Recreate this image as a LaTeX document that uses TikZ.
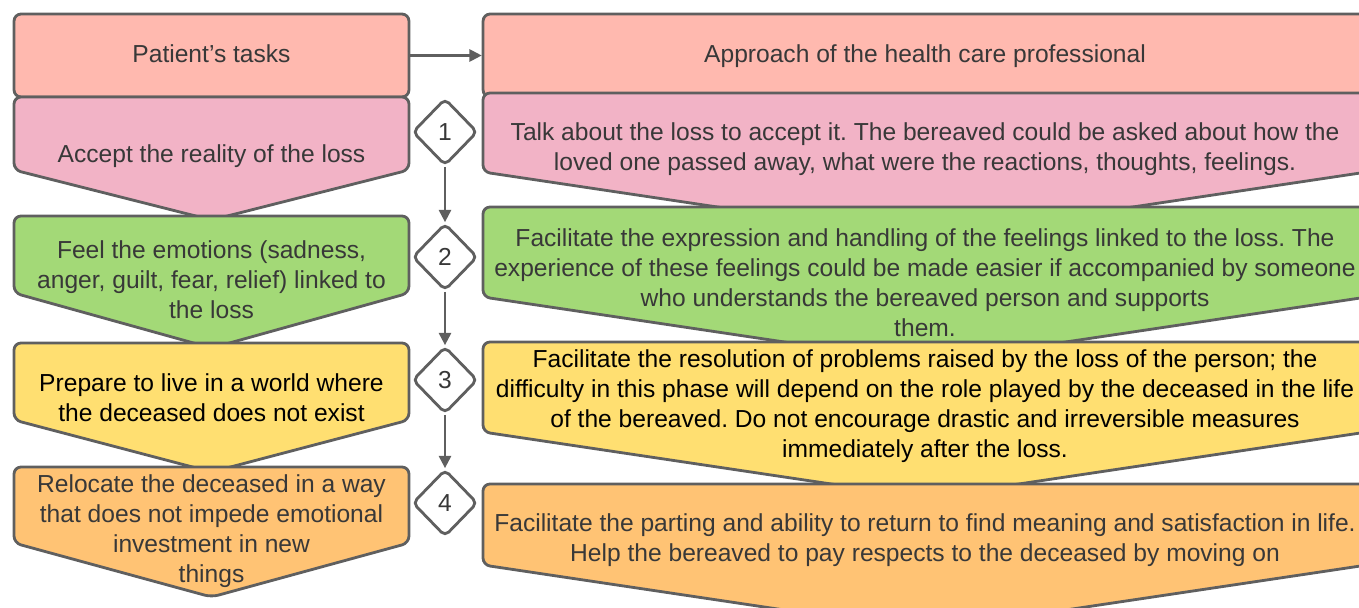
\documentclass[tikz,border=0pt]{standalone}
\usepackage{fontspec}
\setmainfont{Liberation Sans}
\usepackage{tikz}
\usetikzlibrary{shapes.geometric,arrows.meta,positioning}
\frenchspacing

\definecolor{linegray}{HTML}{5F5F5F}
\definecolor{txtgray}{HTML}{383838}
\definecolor{headred}{HTML}{FFB9AF}
\definecolor{rowpink}{HTML}{F2B3C6}
\definecolor{rowgreen}{HTML}{A3D977}
\definecolor{rowyellow}{HTML}{FFDF71}
\definecolor{roworange}{HTML}{FFC374}

% chevron box: x left, x right, y top, y corner, y tip, colour
\newcommand{\chevbox}[6]{%
  \draw[boxline,fill=#6] (#1,#3) -- (#2,#3) -- (#2,#4) -- ({(#1+#2)/2},#5) -- (#1,#4) -- cycle;}

\begin{document}
\begin{tikzpicture}[
  x=0.02cm, y=-0.02cm,
  boxline/.style={draw=linegray,line width=1.6pt,rounded corners=4pt,line join=round},
  txt/.style={text=txtgray,align=center,font=\fontsize{14}{17}\selectfont},
  head/.style={boxline,fill=headred,minimum height=1.66cm,txt,text height=1.05em,text depth=0.25em},
  num/.style={diamond,draw=linegray,line width=1.6pt,fill=white,rounded corners=3pt,
    minimum width=1.3cm,minimum height=1.34cm,inner sep=0pt,text=txtgray,
    font=\fontsize{14}{17}\selectfont},
  arr/.style={-{Triangle[length=7pt,width=7pt]},draw=linegray,line width=1.2pt}
  ]

  \path[use as bounding box,clip] (0,0) rectangle (1359,608);

  % headers
  \node[head,minimum width=7.9cm] (pt) at (211.5,55.5) {Patient's tasks};
  \node[head,minimum width=17.68cm] (ap) at (925,55.5) {Approach of the health care professional};
  \draw[arr] (pt.east) -- (pt.east -| ap.west);

  % patient's tasks
  \chevbox{14}{409}{97}{170}{220}{rowpink}
  \chevbox{14}{409}{216}{293}{348}{rowgreen}
  \chevbox{14}{409}{343}{420}{472}{rowyellow}
  \chevbox{14}{409}{467}{543}{597}{roworange}

  % approach of the professional
  \chevbox{483}{1367}{93}{172}{238}{rowpink}
  \chevbox{483}{1367}{207}{297}{363}{rowgreen}
  \chevbox{483}{1367}{342}{432}{498}{rowyellow}
  \chevbox{483}{1367}{484}{565}{631}{roworange}

  \node[txt] (t1) at (211.5,156) {Accept the reality of the loss};
  \node[txt] (t2) at (211.5,280) {Feel the emotions (sadness,\\anger, guilt, fear, relief) linked to\\the loss};
  \node[txt,text=black] (t3) at (211.5,398) {Prepare to live in a world where\\the deceased does not exist};
  \node[txt] (t4) at (211.5,531) {Relocate the deceased in a way\\that does not impede emotional\\investment in new\\things};

  \node[txt] (a1) at (925,149) {Talk about the loss to accept it. The bereaved could be asked about how the\\loved one passed away, what were the reactions, thoughts, feelings.};
  \node[txt] (a2) at (925,283) {Facilitate the expression and handling of the feelings linked to the loss. The\\experience of these feelings could be made easier if accompanied by someone\\who understands the bereaved person and supports\\them.};
  \node[txt,text=black] (a3) at (925,406) {Facilitate the resolution of problems raised by the loss of the person; the\\difficulty in this phase will depend on the role played by the deceased in the life\\of the bereaved. Do not encourage drastic and irreversible measures\\immediately after the loss.};
  \node[txt] (a4) at (925,540) {Facilitate the parting and ability to return to find meaning and satisfaction in life.\\Help the bereaved to pay respects to the deceased by moving on};

  % steps
  \node[num] (d1) at (445,132) {1};
  \node[num] (d2) at (445,257) {2};
  \node[num] (d3) at (445,380) {3};
  \node[num] (d4) at (445,503) {4};
  \draw[arr] (d1) -- (d2);
  \draw[arr] (d2) -- (d3);
  \draw[arr] (d3) -- (d4);

\end{tikzpicture}
\end{document}
